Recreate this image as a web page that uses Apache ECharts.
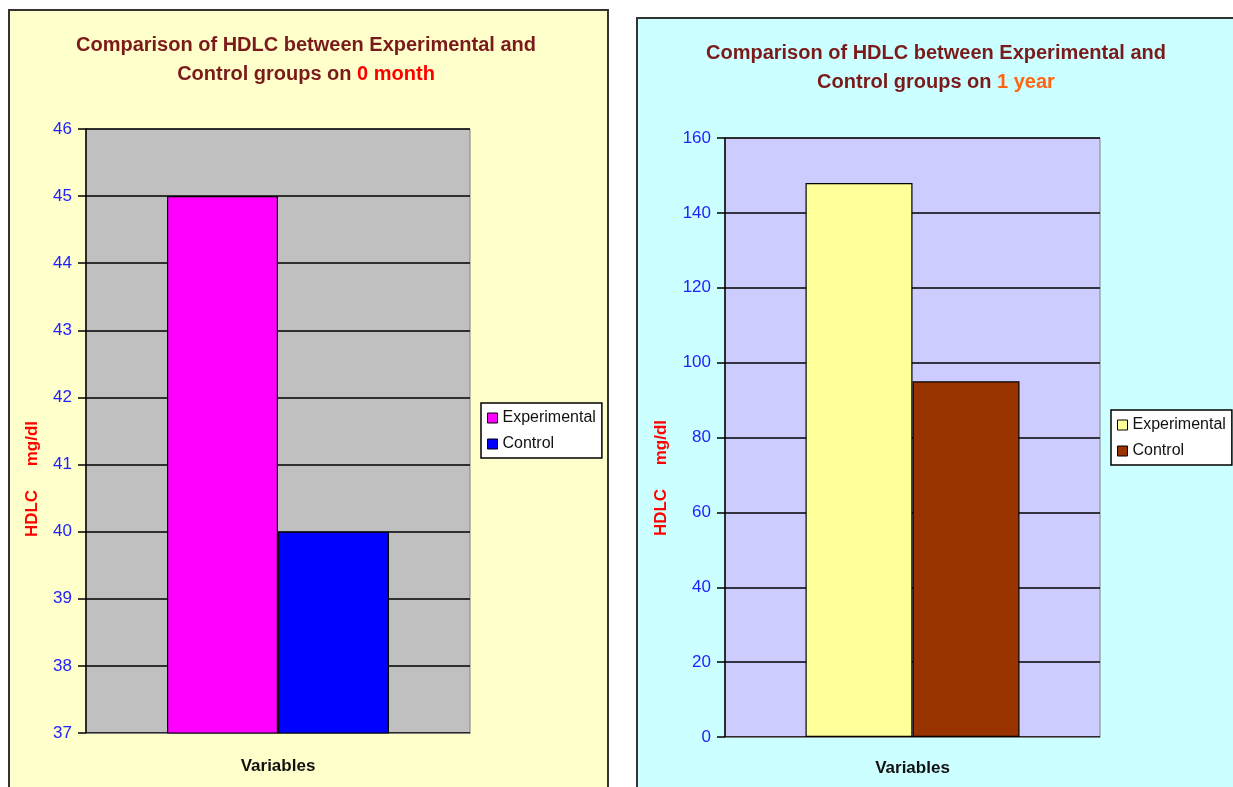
<!DOCTYPE html>
<html>
<head>
<meta charset="utf-8">
<script src="https://cdn.jsdelivr.net/npm/echarts@6/dist/echarts.min.js"></script>
<style>html,body{margin:0;padding:0;background:#fff;}#c{width:1233px;height:787px;}</style>
</head>
<body>
<div id="c"></div>
<script>
// Data
const seriesNames = ['Experimental', 'Control'];
const categories = [''];
const month0Values = [45, 40];
const year1Values = [148, 95];
const month0Ticks = { min: 37, max: 46, interval: 1 };
const year1Ticks = { min: 0, max: 160, interval: 20 };
const month0Colors = ['#FF00FF', '#0000FF'];
const year1Colors = ['#FFFF99', '#993300'];

const FONT = '"Liberation Sans", Arial, sans-serif';
const chart = echarts.init(document.getElementById('c'), null, { renderer: 'canvas' });

function titleRich(highlightColor) {
  return {
    a: { fontFamily: FONT, fontSize: 20, fontWeight: 'bold', color: '#7A1A1A', lineHeight: 29 },
    b: { fontFamily: FONT, fontSize: 20, fontWeight: 'bold', color: highlightColor, lineHeight: 29 }
  };
}

function makeSeries(values, colors, axisIdx) {
  return values.map((v, i) => ({
    name: seriesNames[i],
    type: 'bar',
    xAxisIndex: axisIdx,
    yAxisIndex: axisIdx,
    data: [v],
    barWidth: axisIdx === 0 ? 111 : 107,
    barGap: '0%',
    itemStyle: { color: colors[i], borderColor: '#000', borderWidth: 1.2 },
    emphasis: { disabled: true },
    animation: false
  }));
}

const yAxisCommon = {
  type: 'value',
  axisLine: { show: true, lineStyle: { color: '#000', width: 1.5 } },
  axisTick: { show: true, length: 8, lineStyle: { color: '#000', width: 1.5 } },
  axisLabel: { color: '#2222FF', fontFamily: FONT, fontSize: 17, margin: 14 },
  splitLine: { show: true, lineStyle: { color: '#000', width: 1.5 } }
};

function xAxisFor(gridIndex, gap) {
  return {
    gridIndex: gridIndex,
    type: 'category',
    data: categories,
    axisLine: { show: true, lineStyle: { color: '#808080', width: 1 } },
    axisTick: { show: false },
    axisLabel: { show: false },
    name: 'Variables',
    nameLocation: 'middle',
    nameGap: gap,
    nameTextStyle: { fontFamily: FONT, fontSize: 17, fontWeight: 'bold', color: '#111' }
  };
}

function legendFor(left, top, colors) {
  return {
    data: seriesNames.map((n, i) => ({ name: n, itemStyle: { color: colors[i], borderColor: '#000', borderWidth: 1 } })),
    left: left, top: top, orient: 'vertical',
    backgroundColor: '#fff', borderColor: '#000', borderWidth: 1.5, padding: [7, 6, 6, 6],
    itemWidth: 10, itemHeight: 10, itemGap: 10, icon: 'rect', selectedMode: false,
    textStyle: { fontFamily: FONT, fontSize: 16, color: '#111', padding: [0, 0, 0, 0] }
  };
}

const option = {
  animation: false,
  graphic: [
    { type: 'rect', z: -10, shape: { x: 9, y: 10, width: 599, height: 800 },
      style: { fill: '#FFFFCC', stroke: '#333', lineWidth: 2 } },
    { type: 'rect', z: -10, shape: { x: 637, y: 18, width: 620, height: 800 },
      style: { fill: '#CCFFFF', stroke: '#333', lineWidth: 2 } },
    { type: 'text', x: 32, y: 479, rotation: Math.PI / 2,
      style: { text: 'HDLC     mg/dl', fill: '#FF0000', font: 'bold 17px ' + FONT, align: 'center', verticalAlign: 'middle' } },
    { type: 'text', x: 661, y: 478, rotation: Math.PI / 2,
      style: { text: 'HDLC     mg/dl', fill: '#FF0000', font: 'bold 17px ' + FONT, align: 'center', verticalAlign: 'middle' } }
  ],
  title: [
    { left: 301, top: 26, textAlign: 'center',
      text: '{a|Comparison of HDLC between Experimental and}\n{a|Control groups on }{b|0 month}',
      textStyle: { rich: titleRich('#FF0000') } },
    { left: 931, top: 34, textAlign: 'center',
      text: '{a|Comparison of HDLC between Experimental and}\n{a|Control groups on }{b|1 year}',
      textStyle: { rich: titleRich('#FF6611') } }
  ],
  legend: [
    legendFor(481, 403, month0Colors),
    legendFor(1111, 410, year1Colors)
  ],
  grid: [
    { left: 86, top: 129, width: 384, height: 604, show: true, backgroundColor: '#C0C0C0', borderColor: '#808080', borderWidth: 1 },
    { left: 725, top: 138, width: 375, height: 599, show: true, backgroundColor: '#CCCCFF', borderColor: '#808080', borderWidth: 1 }
  ],
  xAxis: [ xAxisFor(0, 25), xAxisFor(1, 23) ],
  yAxis: [
    Object.assign({}, yAxisCommon, { gridIndex: 0 }, month0Ticks),
    Object.assign({}, yAxisCommon, { gridIndex: 1 }, year1Ticks)
  ],
  series: makeSeries(month0Values, month0Colors, 0).concat(makeSeries(year1Values, year1Colors, 1))
};

chart.setOption(option);
</script>
</body>
</html>
